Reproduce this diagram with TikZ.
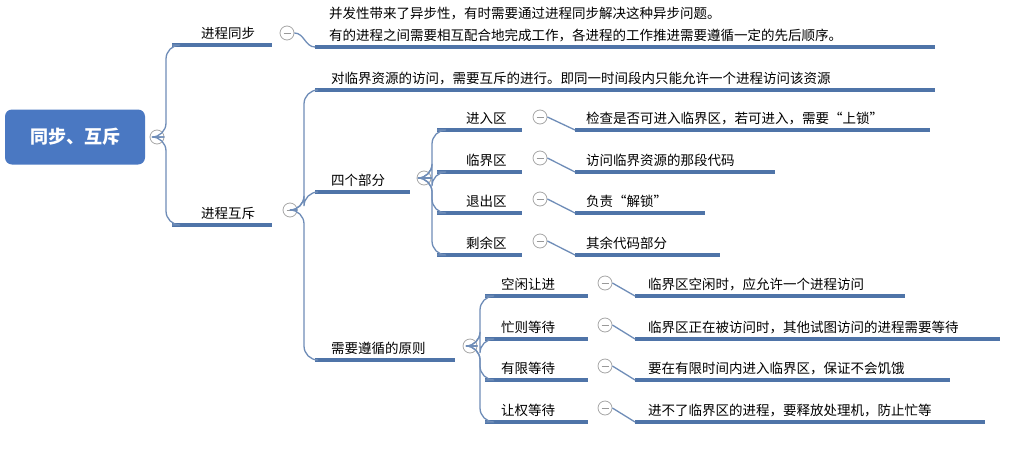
\documentclass[tikz,border=0pt]{standalone}
\usepackage{fontspec}
\setmainfont{Noto Sans CJK SC}
\definecolor{ul}{HTML}{4F74A8}
\definecolor{cn}{HTML}{6F8DB8}
\definecolor{rootc}{HTML}{4A78C2}
\tikzset{
  lbl/.style={anchor=south west,inner sep=1pt,font=\fontsize{13.5}{16}\selectfont},
  uline/.style={ul,line width=3.4pt},
  conn/.style={cn,line width=1.3pt,rounded corners=14pt},
  tog/.style={circle,draw=gray!70,line width=0.8pt,minimum size=14pt,inner sep=0pt,fill=white,
    path picture={\draw[gray!80,line width=0.8pt]([xshift=-3.5pt]path picture bounding box.center)--([xshift=3.5pt]path picture bounding box.center);}}
}
% \mytopic[offset]{name}{x1}{x2}{y}{text}
\newcommand\mytopic[6][28]{%
  \coordinate (#2) at (#3,#5);
  \coordinate (#2e) at (#4,#5);
  \draw[uline] (#2) -- (#2e);
  \node[lbl] (#2t) at (#3+#1,#5-4) {#6};
}
\newcommand\myconn[3]{% parent circle, child coord, trunk x
  \draw[conn] (#1.east) -- (#3,0 |- #1.east) -- (#3,0 |- #2) -- (#2);
}
\begin{document}
\begin{tikzpicture}[x=1pt,y=-1pt]
\useasboundingbox (0,0) rectangle (1024,463);
\fill[white] (0,0) rectangle (1024,463);
\node[fill=rootc,rounded corners=7pt,minimum width=140pt,minimum height=55pt,text=white,font=\fontsize{18}{20}\selectfont\bfseries] (root) at (75,137) {同步、互斥};
\node[tog] (rootc) at (157,137) {};

\mytopic{tb}{172}{272}{45}{进程同步}
\node[tog] (tbc) at (287,33) {};
\node[lbl,anchor=west,align=left,font=\fontsize{13.5}{22}\selectfont] (tbd) at (328,25) {并发性带来了异步性，有时需要通过进程同步解决这种异步问题。\\有的进程之间需要相互配合地完成工作，各进程的工作推进需要遵循一定的先后顺序。};
\coordinate (tbdl) at (315,47); \coordinate (tbdr) at (935,47);
\draw[uline] (tbdl) -- (tbdr);

\mytopic{hc}{172}{272}{225}{进程互斥}
\node[tog] (hcc) at (290,210) {};
\myconn{rootc}{tb}{166}
\myconn{rootc}{hc}{166}
\draw[cn,line width=1.3pt] (tbc.east) to[out=0,in=180] (tbdl);

\mytopic[15]{lj}{315}{935}{90}{对临界资源的访问，需要互斥的进行。即同一时间段内只能允许一个进程访问该资源}
\mytopic[15]{sg}{315}{410}{192}{四个部分}
\node[tog] (sgc) at (424,178) {};
\mytopic[15]{yz}{315}{455}{360}{需要遵循的原则}
\node[tog] (yzc) at (470,346) {};
\myconn{hcc}{lj}{304}
\myconn{hcc}{sg}{304}
\myconn{hcc}{yz}{304}

% four parts
\mytopic{a1}{437}{522}{130}{进入区}
\node[tog] (a1c) at (540,117) {};
\mytopic[10]{a1d}{575}{930}{130}{检查是否可进入临界区，若可进入，需要“上锁”}
\mytopic{a2}{437}{522}{172}{临界区}
\node[tog] (a2c) at (540,158) {};
\mytopic[10]{a2d}{575}{775}{172}{访问临界资源的那段代码}
\mytopic{a3}{437}{522}{213}{退出区}
\node[tog] (a3c) at (540,199) {};
\mytopic[10]{a3d}{575}{705}{213}{负责“解锁”}
\mytopic{a4}{437}{522}{255}{剩余区}
\node[tog] (a4c) at (540,241) {};
\mytopic[10]{a4d}{575}{720}{255}{其余代码部分}
\foreach \c in {a1,a2,a3,a4}{\myconn{sgc}{\c}{432}}
\foreach \c in {1,2,3,4}{\draw[conn] (a\c c.east) -- (a\c d);}

% principles
\mytopic[15]{b1}{485}{588}{296}{空闲让进}
\node[tog] (b1c) at (605,283) {};
\mytopic[12]{b1d}{635}{905}{296}{临界区空闲时，应允许一个进程访问}
\mytopic[15]{b2}{485}{588}{339}{忙则等待}
\node[tog] (b2c) at (605,325) {};
\mytopic[12]{b2d}{635}{1000}{339}{临界区正在被访问时，其他试图访问的进程需要等待}
\mytopic[15]{b3}{485}{588}{380}{有限等待}
\node[tog] (b3c) at (605,366) {};
\mytopic[12]{b3d}{635}{950}{380}{要在有限时间内进入临界区，保证不会饥饿}
\mytopic[15]{b4}{485}{588}{422}{让权等待}
\node[tog] (b4c) at (605,408) {};
\mytopic[12]{b4d}{635}{985}{422}{进不了临界区的进程，要释放处理机，防止忙等}
\foreach \c in {b1,b2,b3,b4}{\myconn{yzc}{\c}{480}}
\foreach \c in {1,2,3,4}{\draw[conn] (b\c c.east) -- (b\c d);}
\end{tikzpicture}
\end{document}
